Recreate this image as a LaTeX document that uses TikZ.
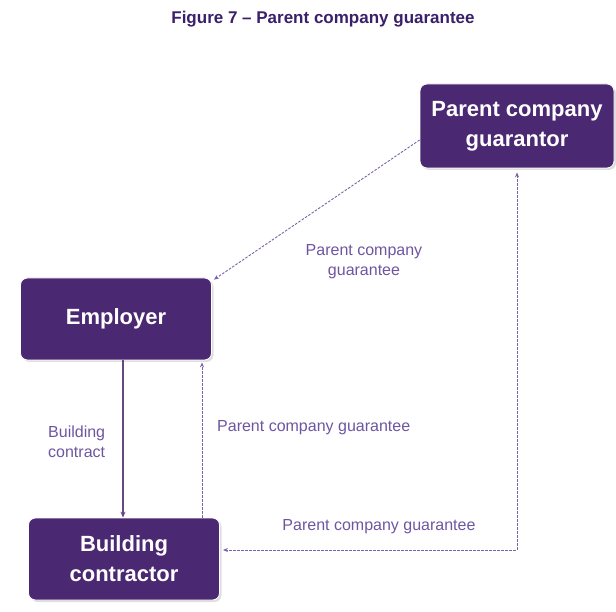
\documentclass[tikz,border=0pt]{standalone}
\usepackage{fontspec}
\setmainfont{Liberation Sans}
\usetikzlibrary{arrows.meta,shadows}
\definecolor{boxpurple}{HTML}{4B2872}
\definecolor{titlepurple}{HTML}{3A1F6B}
\definecolor{linepurple}{HTML}{7A62A8}
\definecolor{labelpurple}{HTML}{6E55A0}
\begin{document}
\begin{tikzpicture}[x=1pt,y=-1pt,
  pbox/.style={draw=white, line width=0.8pt, fill=boxpurple, rounded corners=7pt,
    text=white, font=\bfseries\fontsize{22}{30}\selectfont, align=center, inner sep=0pt,
    drop shadow={opacity=0.25, shadow xshift=2pt, shadow yshift=-2pt}},
  dashline/.style={draw=linepurple, line width=0.9pt, dash pattern=on 2.5pt off 1.5pt,
    -{Stealth[length=5pt,width=4pt]}},
  dashboth/.style={dashline, {Stealth[length=5pt,width=4pt]}-{Stealth[length=5pt,width=4pt]}},
  solidline/.style={draw=boxpurple!85, line width=1.2pt, -{Stealth[length=6pt,width=5pt]}},
  lbl/.style={text=labelpurple, font=\fontsize{16}{20}\selectfont, inner sep=0pt}
]
\useasboundingbox (0,0) rectangle (616,612);
\node[font=\bfseries\fontsize{17}{20}\selectfont, text=titlepurple] (title) at (323,19) {Figure 7 – Parent company guarantee};

\node[pbox, minimum width=194pt, minimum height=84pt] (pcg) at (517,126) {Parent company\\guarantor};
\node[pbox, minimum width=191pt, minimum height=82pt] (emp) at (116,319) {Employer};
\node[pbox, minimum width=191pt, minimum height=82pt] (bc) at (124,559) {Building\\contractor};

\coordinate (corner) at (517,550);
\coordinate (pcgb) at ([yshift=-4pt]pcg.south);

\draw[solidline] (emp.south -| 123,0) -- (bc.north -| 123,0);
\draw[dashline] (bc.north -| 202,0) -- ([yshift=-2pt]emp.south -| 202,0);
\draw[dashline] (pcg.west |- 0,140) -- ([xshift=2pt,yshift=-2pt]emp.north east);
\draw[dashboth] (pcgb) -- (corner) -- ([xshift=3pt]bc.east |- corner);

\node[lbl, align=center] (l1) at (364,262) {Parent company\\guarantee};
\node[lbl, align=left, anchor=west] (l2) at (48,442) {Building\\contract};
\node[lbl, anchor=west] (l3) at (217,428) {Parent company guarantee};
\node[lbl] (l4) at (379,527) {Parent company guarantee};
\end{tikzpicture}
\end{document}
